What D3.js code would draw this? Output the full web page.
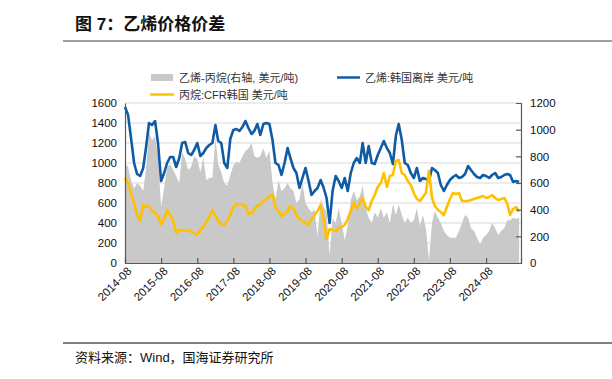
<!DOCTYPE html>
<html><head><meta charset="utf-8">
<script src="https://cdn.jsdelivr.net/npm/d3@7"></script>
<style>
html,body{margin:0;padding:0;background:#fff;}
svg{display:block;}
text{font-family:"Liberation Sans",Arial,"Noto Sans CJK SC",sans-serif;}
.cjk{font-family:"Liberation Sans","Noto Sans CJK SC",sans-serif;}
</style></head>
<body>
<svg id="chart" width="612" height="379"></svg>
<script>
const startMonth = "2014-08";
const ethylene = [1560,1480,1250,1000,890,870,950,1150,1400,1380,1420,1200,820,900,1000,1060,1060,960,1050,1200,
1210,1100,1080,1130,1200,1070,1100,1150,1180,1200,1380,1220,1200,1000,950,1240,1330,1340,1320,1360,
1420,1350,1290,1320,1390,1280,1390,1400,1390,1230,1000,980,880,1000,1150,1050,950,900,750,850,
950,820,680,720,750,830,750,650,400,720,870,820,750,850,720,900,1000,1050,1000,1200,
1000,1170,1000,990,1080,1150,1220,1150,1100,990,1280,1390,1230,1000,980,900,850,950,820,850,
840,820,950,930,900,780,720,780,830,860,880,850,860,890,970,930,890,860,850,880,
870,850,880,900,850,860,880,890,880,810,820,810];
const propane = [850,800,690,600,480,420,580,560,570,520,500,470,390,440,530,480,420,300,330,330,
320,330,310,300,280,330,360,410,460,530,470,420,390,380,420,480,560,590,590,580,
570,490,500,540,570,580,620,640,670,680,560,520,470,490,520,570,540,480,440,420,
400,380,440,480,520,580,430,240,340,330,320,350,360,380,440,520,600,540,600,650,
560,530,620,680,760,800,900,760,870,880,1020,1030,900,880,820,780,700,640,620,660,
700,920,650,570,530,510,480,560,640,700,690,700,620,620,620,630,640,650,660,670,
650,660,680,650,630,640,650,600,480,540,560,510];
const spread = [750,720,620,560,600,580,540,700,980,920,950,800,420,560,720,740,700,650,600,830,
780,700,720,800,780,680,790,620,640,640,940,740,680,600,580,660,730,760,750,800,
840,860,900,800,790,800,860,790,840,600,480,620,540,560,600,560,540,450,480,600,
450,410,380,400,200,480,420,380,60,340,300,410,300,170,280,470,540,470,500,580,
410,340,300,380,340,410,340,380,300,440,360,440,360,300,340,300,320,410,280,360,
260,20,300,390,340,300,240,210,190,190,190,240,300,360,340,260,240,190,140,190,
210,240,300,260,210,240,260,320,320,340,330,340];
const leftTicks = [0,200,400,600,800,1000,1200,1400,1600];
const rightTicks = [0,200,400,600,800,1000,1200];
const xTickLabels = ["2014-08","2015-08","2016-08","2017-08","2018-08","2019-08","2020-08","2021-08","2022-08","2023-08","2024-08"];
const title = "图 7：乙烯价格价差";
const source = "资料来源：Wind，国海证券研究所";
const legendItems = ["乙烯-丙烷(右轴, 美元/吨)","乙烯:韩国离岸 美元/吨","丙烷:CFR韩国 美元/吨"];

const svg = d3.select("#chart");
const pt = d3.timeParse("%Y-%m");
const start = pt(startMonth);
const dates = ethylene.map((_, i) => d3.timeMonth.offset(start, i));

const L = 125, R = 521, T = 103, B = 263;
const x = d3.scaleTime().domain([start, new Date(2025, 6, 20)]).range([L, R]);
const yL = d3.scaleLinear().domain([0, 1600]).range([B, T]);
const yR = d3.scaleLinear().domain([0, 1200]).range([B, T]);

// title
svg.append("text").attr("class","cjk").attr("x",75).attr("y",30)
  .attr("font-size",17).attr("font-weight","bold").attr("fill","#111").text(title);
svg.append("line").attr("x1",63).attr("x2",612).attr("y1",41).attr("y2",41)
  .attr("stroke","#7f7f7f").attr("stroke-width",1.5);

// source
svg.append("line").attr("x1",63).attr("x2",612).attr("y1",343).attr("y2",343)
  .attr("stroke","#000").attr("stroke-width",1);
svg.append("text").attr("class","cjk").attr("x",75).attr("y",362)
  .attr("font-size",13).attr("fill","#111").text(source);

// gridlines
svg.append("g").selectAll("line").data(leftTicks.filter(d => d > 0)).join("line")
  .attr("x1",L).attr("x2",R).attr("y1",d => yL(d)).attr("y2",d => yL(d))
  .attr("stroke","#d9d9d9").attr("stroke-width",1);

// area
const area = d3.area().x((d,i) => x(dates[i])).y0(B).y1(d => yR(d));
svg.append("path").datum(spread).attr("d",area).attr("fill","#c9c9c9");

// lines
const lineE = d3.line().x((d,i) => x(dates[i])).y(d => yL(d));
svg.append("path").datum(ethylene).attr("d",lineE).attr("fill","none")
  .attr("stroke","#0f5ca4").attr("stroke-width",2.6).attr("stroke-linejoin","round");
svg.append("path").datum(propane).attr("d",lineE).attr("fill","none")
  .attr("stroke","#ffc000").attr("stroke-width",2.6).attr("stroke-linejoin","round");

// axes
const fmt = d3.format("d");
const axL = d3.axisLeft(yL).tickValues(leftTicks).tickFormat(fmt).tickSize(0).tickPadding(8);
const gL = svg.append("g").attr("transform",`translate(${L},0)`).call(axL);
const axR = d3.axisRight(yR).tickValues(rightTicks).tickFormat(fmt).tickSize(-5).tickPadding(9);
const gR = svg.append("g").attr("transform",`translate(${R},0)`).call(axR);
const xTickDates = xTickLabels.map(pt);
const axB = d3.axisBottom(x).tickValues(xTickDates).tickFormat(d3.timeFormat("%Y-%m")).tickSize(-5).tickPadding(4);
const gB = svg.append("g").attr("transform",`translate(0,${B})`).call(axB);
[gL,gR,gB].forEach(g => {
  g.select(".domain").attr("stroke","#595959").attr("stroke-width",1.2);
  g.selectAll(".tick line").attr("stroke","#595959").attr("stroke-width",1.2);
  g.selectAll("text").attr("font-size",11.5).attr("fill","#111")
   .attr("font-family","Liberation Sans, Arial, sans-serif");
});
gR.selectAll(".tick").filter(d => d === 0 || d === 1200).select("line").remove();
gB.selectAll(".tick text").attr("text-anchor","end").attr("dy",0)
  .attr("transform","translate(4,6) rotate(-45)");

// legend
const lg = svg.append("g");
lg.append("rect").attr("x",151).attr("y",74).attr("width",22).attr("height",7).attr("fill","#c9c9c9");
lg.append("text").attr("class","cjk").attr("x",179).attr("y",81.5).attr("font-size",11).attr("fill","#333").text(legendItems[0]);
lg.append("line").attr("x1",337).attr("x2",360).attr("y1",77.5).attr("y2",77.5).attr("stroke","#0f5ca4").attr("stroke-width",2.5);
lg.append("text").attr("class","cjk").attr("x",365).attr("y",81.5).attr("font-size",11).attr("fill","#333").text(legendItems[1]);
lg.append("line").attr("x1",150).attr("x2",174).attr("y1",94.5).attr("y2",94.5).attr("stroke","#ffc000").attr("stroke-width",2.5);
lg.append("text").attr("class","cjk").attr("x",179).attr("y",98.5).attr("font-size",11).attr("fill","#333").text(legendItems[2]);
</script>
</body></html>
